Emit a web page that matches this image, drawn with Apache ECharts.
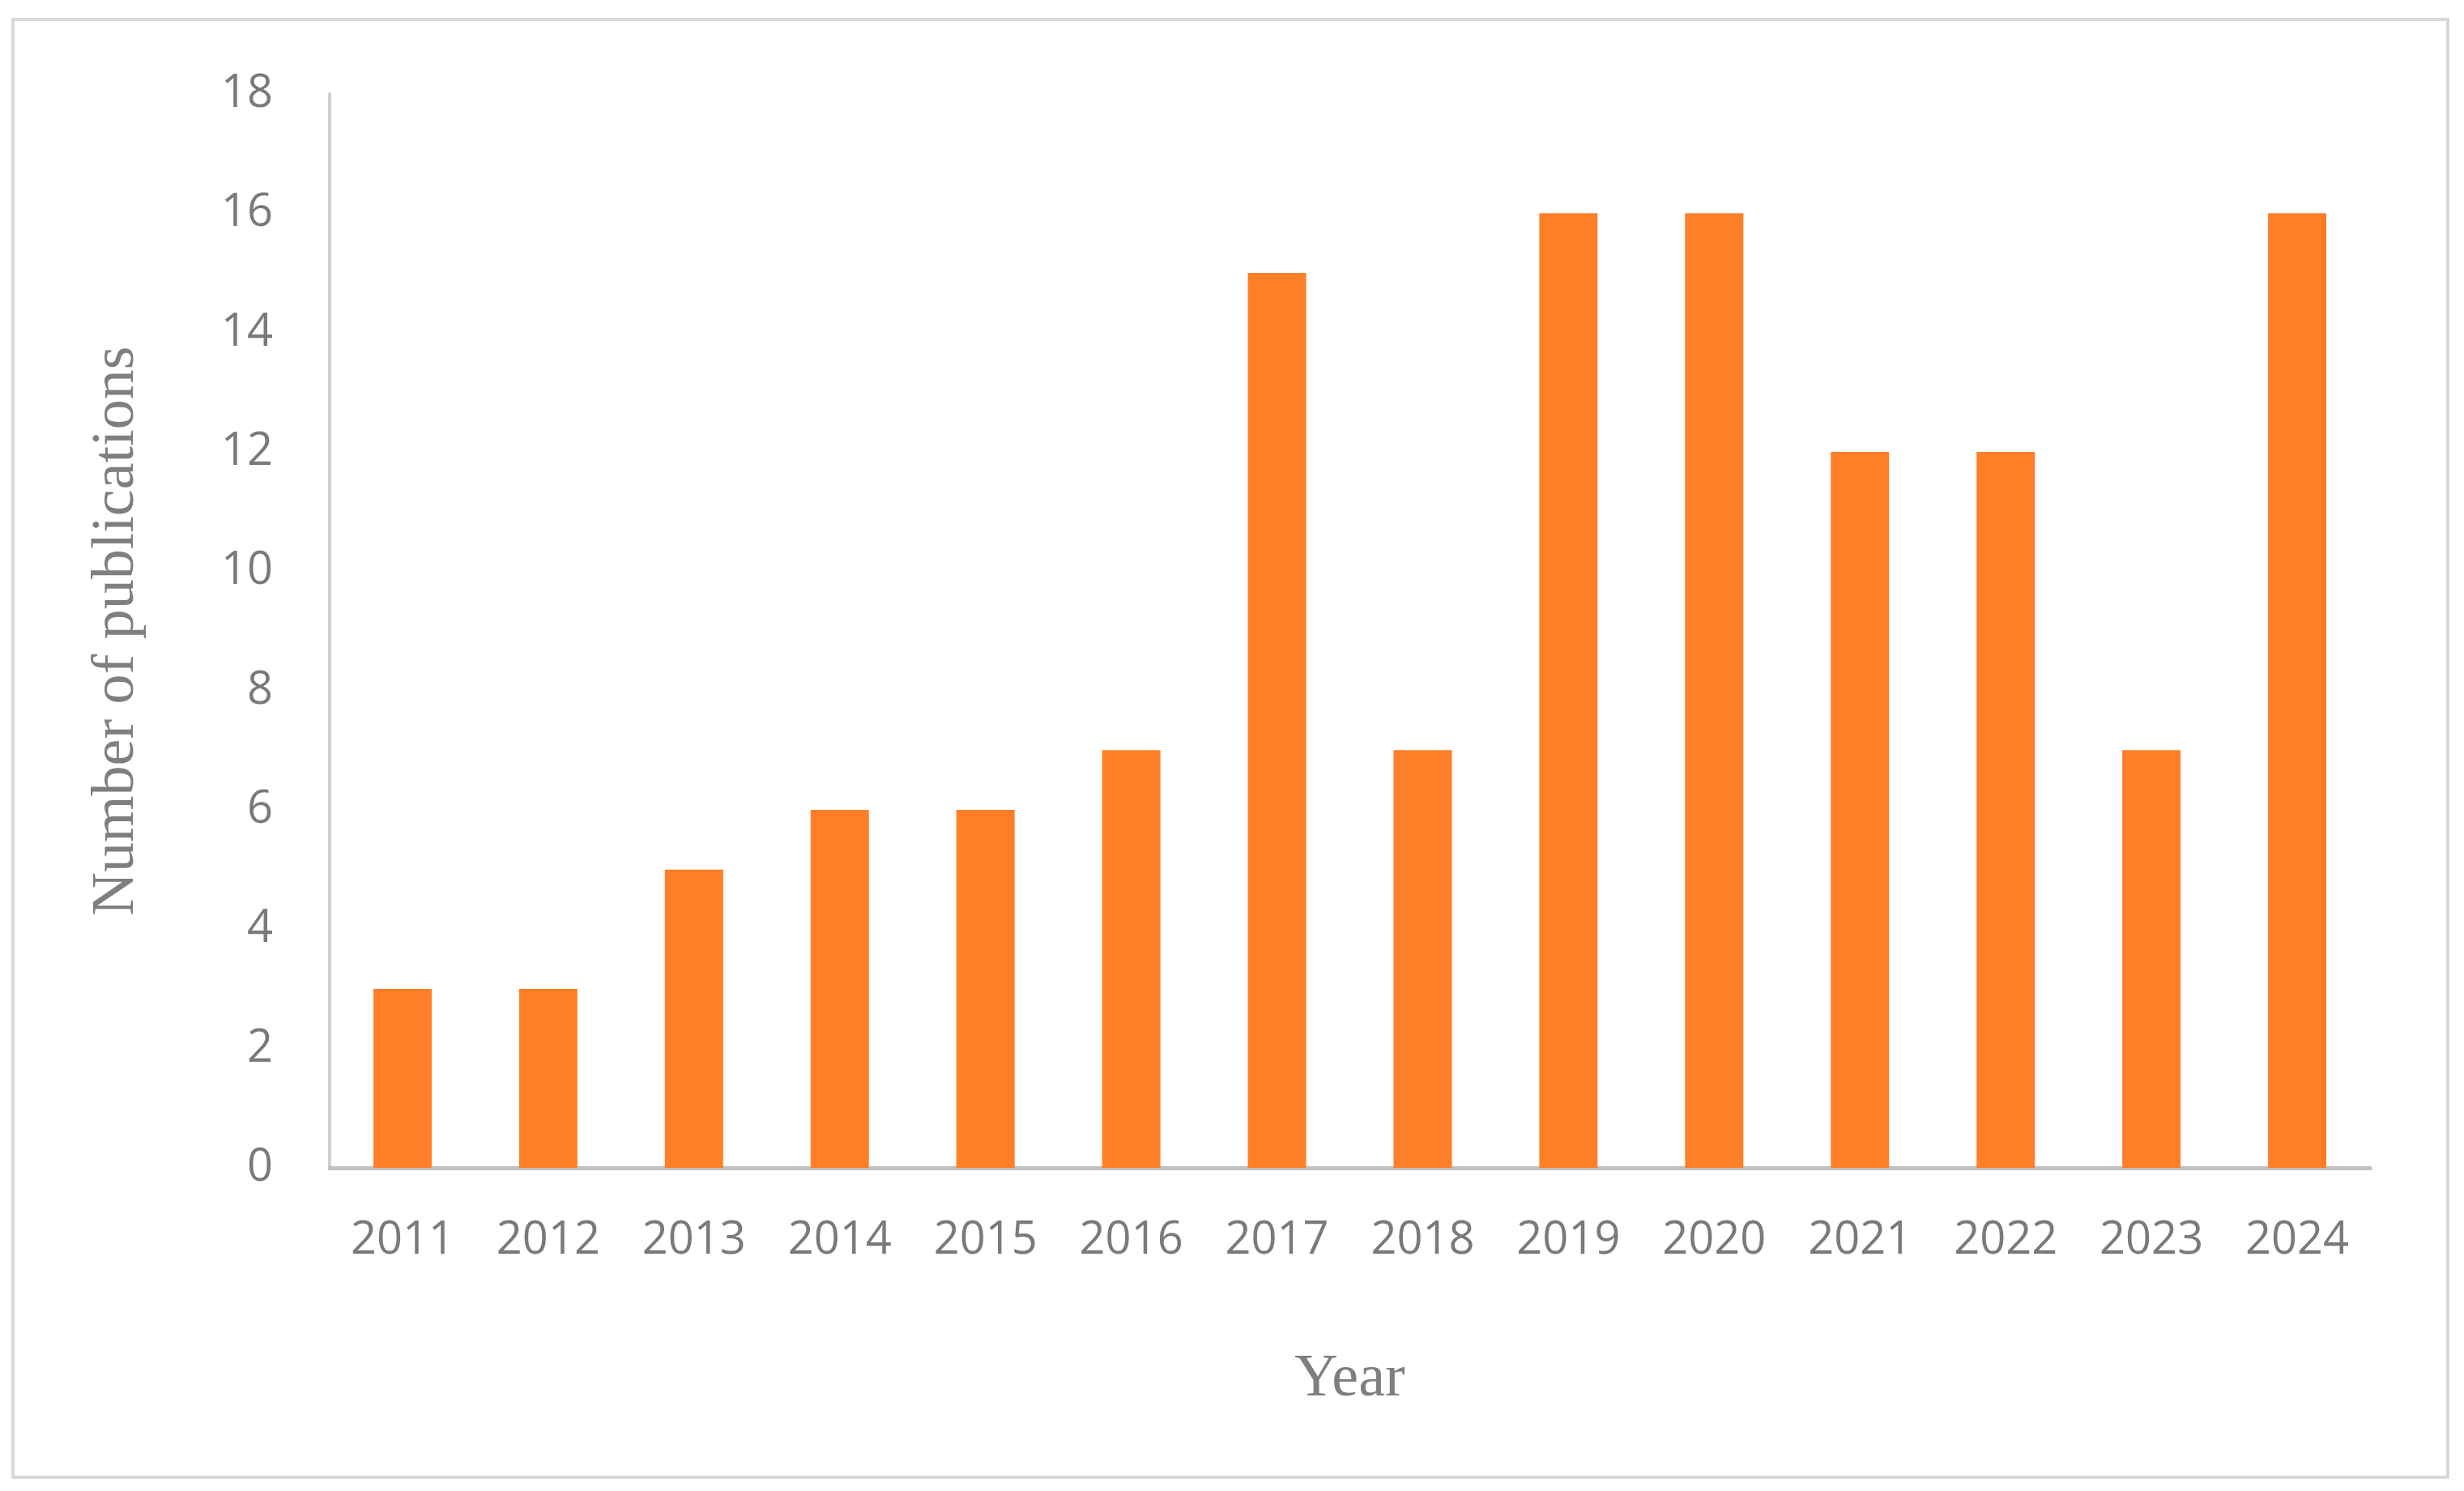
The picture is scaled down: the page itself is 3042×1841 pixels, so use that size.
<!DOCTYPE html>
<html><head><meta charset="utf-8">
<script src="https://cdn.jsdelivr.net/npm/echarts@6/dist/echarts.min.js"></script>
<style>html,body{margin:0;padding:0;background:#fff}#c{width:3042px;height:1841px}</style>
</head><body><div id="c"></div>
<script>
var years = ['2011','2012','2013','2014','2015','2016','2017','2018','2019','2020','2021','2022','2023','2024'];
var publications = [3,3,5,6,6,7,15,7,16,16,12,12,7,16];
var chart = echarts.init(document.getElementById('c'));
chart.setOption({
  backgroundColor:'#fff',
  graphic:[{type:'rect',shape:{x:16,y:24,width:3006,height:1800},style:{fill:'none',stroke:'#d9d9d9',lineWidth:4}}],
  grid:{left:407,right:116,top:116,bottom:399},
  xAxis:{type:'category',data:years,name:'Year',nameLocation:'middle',nameGap:225,
    nameTextStyle:{fontFamily:'Liberation Serif',fontSize:74,color:'#7f7f7f'},
    axisLine:{lineStyle:{color:'#bfbfbf',width:5}},axisTick:{show:false},
    axisLabel:{fontFamily:'Open Sans',fontSize:56,color:'#7a7a7a',margin:62}},
  yAxis:{type:'value',min:0,max:18,interval:2,name:'Number of publications',nameLocation:'middle',nameGap:225,
    nameTextStyle:{fontFamily:'Liberation Serif',fontSize:74,color:'#7f7f7f'},
    axisLine:{show:true,lineStyle:{color:'#d0d0d0',width:4}},axisTick:{show:false},splitLine:{show:false},
    axisLabel:{fontFamily:'Open Sans',fontSize:56,color:'#7a7a7a',margin:70}},
  series:[{type:'bar',data:publications,barWidth:'40%',itemStyle:{color:'#fe7f27'}}]
});
</script></body></html>
